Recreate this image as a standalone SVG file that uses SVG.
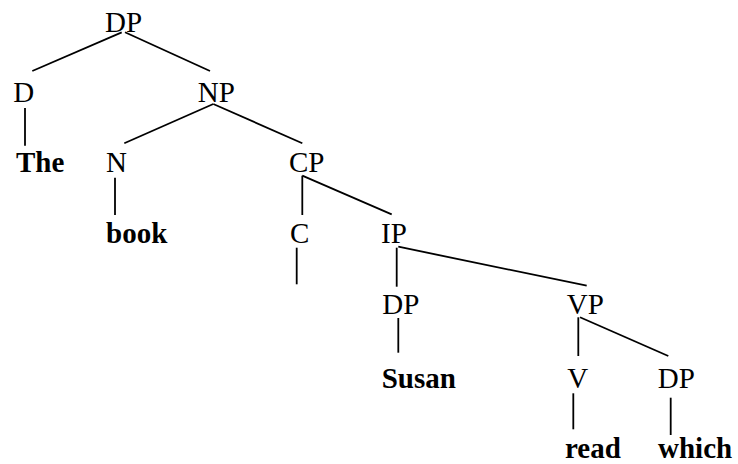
<svg xmlns="http://www.w3.org/2000/svg" width="738" height="464" viewBox="0 0 738 464">
  <style>
    text { font-family: "Liberation Serif", "Times New Roman", serif; font-size: 29px; fill: #000; }
    .w { font-weight: bold; }
    #edges line { stroke: #000; stroke-width: 1.8; stroke-linecap: butt; }
  </style>
  <rect width="738" height="464" fill="#fff"/>
  <g id="edges">
    <line x1="121.7" y1="32.3" x2="32.3" y2="71"/>
    <line x1="125" y1="32.3" x2="210" y2="71"/>
    <line x1="25" y1="108" x2="25" y2="145.7"/>
    <line x1="213.3" y1="104" x2="124.3" y2="143.3"/>
    <line x1="213.3" y1="104" x2="302.3" y2="143.3"/>
    <line x1="115" y1="177.7" x2="115" y2="215"/>
    <line x1="302.3" y1="175.7" x2="302.3" y2="215"/>
    <line x1="302.3" y1="175.7" x2="391.7" y2="214.3"/>
    <line x1="296.7" y1="247.7" x2="296.7" y2="284.3"/>
    <line x1="396.7" y1="247.7" x2="396.7" y2="286.7"/>
    <line x1="398.3" y1="246.7" x2="586.7" y2="285.7"/>
    <line x1="398.3" y1="318" x2="398.3" y2="352.7"/>
    <line x1="578.3" y1="317.3" x2="578.3" y2="356"/>
    <line x1="580" y1="317.3" x2="668.3" y2="356"/>
    <line x1="573.3" y1="393.3" x2="573.3" y2="429.3"/>
    <line x1="670.7" y1="397.7" x2="670.7" y2="435"/>
  </g>
  <g id="dp-root"><text x="105" y="32">DP</text></g>
  <g id="d"><text x="13.3" y="101.7">D</text></g>
  <g id="np"><text x="197.7" y="101.7">NP</text></g>
  <g id="the"><text class="w" x="16" y="172.3">The</text></g>
  <g id="n"><text x="106" y="172.3">N</text></g>
  <g id="cp"><text x="289" y="172.3">CP</text></g>
  <g id="book"><text class="w" x="106" y="243.3">book</text></g>
  <g id="c"><text x="290" y="243.3">C</text></g>
  <g id="ip"><text x="381" y="243.3">IP</text></g>
  <g id="dp-subj"><text x="382.3" y="314.3">DP</text></g>
  <g id="vp"><text x="566.7" y="314.3">VP</text></g>
  <g id="susan"><text class="w" x="381.7" y="387.7">Susan</text></g>
  <g id="v"><text x="567.3" y="387.7">V</text></g>
  <g id="dp-obj"><text x="657.7" y="387.7">DP</text></g>
  <g id="read"><text class="w" x="565" y="458">read</text></g>
  <g id="which"><text class="w" x="658" y="458">which</text></g>
</svg>
